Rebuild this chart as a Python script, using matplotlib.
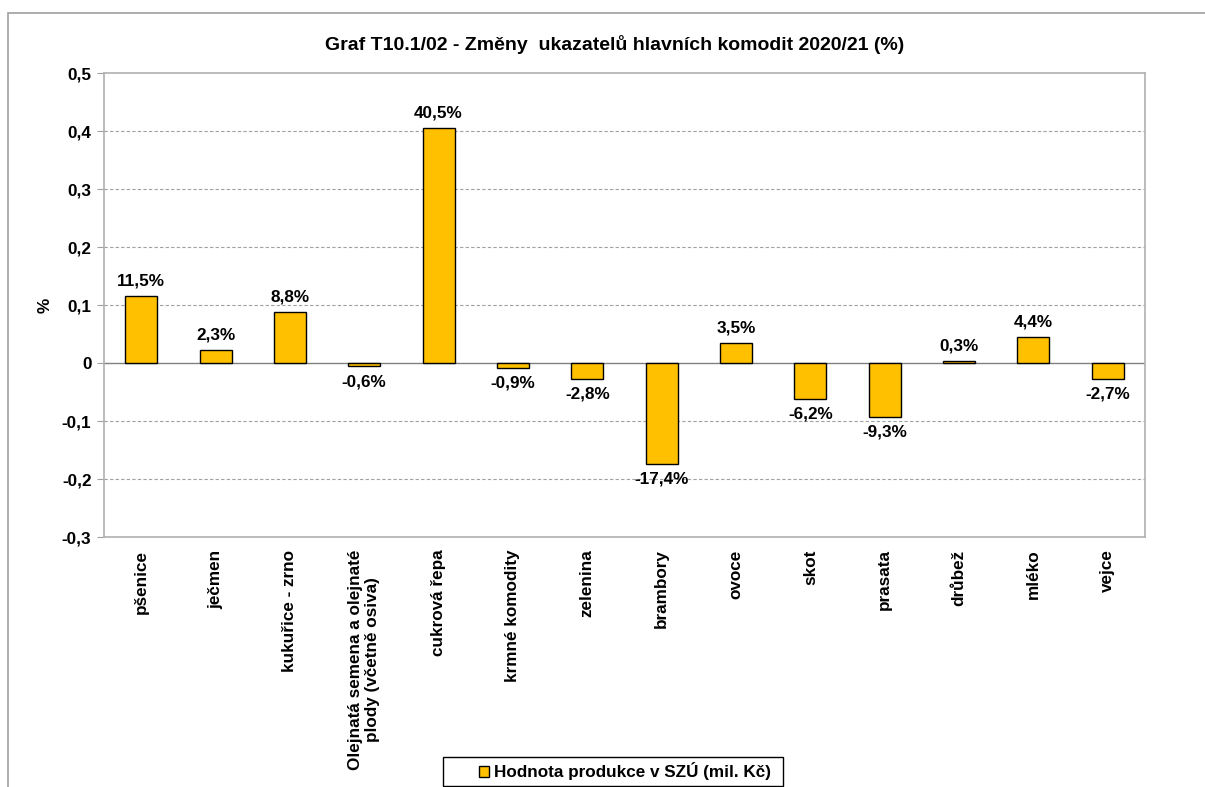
import numpy as np
import matplotlib.pyplot as plt
from matplotlib.patches import Rectangle

plt.rcParams['font.family'] = ['Liberation Sans', 'DejaVu Sans']
plt.rcParams['font.weight'] = 'bold'

categories = ['pšenice', 'ječmen', 'kukuřice - zrno',
              'Olejnatá semena a olejnaté\nplody (včetně osiva)', 'cukrová řepa',
              'krmné komodity', 'zelenina', 'brambory', 'ovoce', 'skot', 'prasata',
              'drůbež', 'mléko', 'vejce']
values = [0.115, 0.023, 0.088, -0.006, 0.405, -0.009, -0.028, -0.174, 0.035,
          -0.062, -0.093, 0.003, 0.044, -0.027]
yticks = [-0.3, -0.2, -0.1, 0, 0.1, 0.2, 0.3, 0.4, 0.5]

FS = 12.3
W, H = 1205, 787
fig = plt.figure(figsize=(W / 100, H / 100), dpi=100)
ax = fig.add_axes([104 / W, 1 - 537 / H, (1145 - 104) / W, (537 - 73) / H])

# outer chart frame (cut off at right / bottom like the source)
fig.add_artist(Rectangle((8 / W, -0.1), 1.2, 1 - 13 / H + 0.1, transform=fig.transFigure,
                         fill=False, edgecolor='#a0a0a0', linewidth=1.2))

x = np.arange(len(categories))
bars = ax.bar(x, values, width=0.43, color='#FFC000', edgecolor='black', linewidth=1,
              label='Hodnota produkce v SZÚ (mil. Kč)', zorder=3)

for xi, v in zip(x, values):
    txt = f'{v * 100:.1f}%'.replace('.', ',')
    if v >= 0:
        ax.text(xi, v + 0.013, txt, ha='center', va='bottom', fontsize=FS, fontweight='bold')
    else:
        ax.text(xi, v - 0.013, txt, ha='center', va='top', fontsize=FS, fontweight='bold')

ax.set_xlim(-0.5, len(categories) - 0.5)
ax.set_ylim(-0.3, 0.5)
ax.set_yticks(yticks)
ax.set_yticklabels([('%g' % t).replace('.', ',') for t in yticks], fontsize=FS, fontweight='bold')
ax.set_xticks(x)
ax.set_xticklabels(categories, rotation=90, fontsize=FS, fontweight='bold', va='top', ha='center',
                   multialignment='center')
ax.tick_params(axis='x', length=0, pad=9)
ax.tick_params(axis='y', length=5, color='#a0a0a0', pad=4)

for t in yticks:
    if t not in (0, -0.3, 0.5):
        ax.axhline(t, color='#a0a0a0', linestyle=(0, (3, 2)), linewidth=0.8, zorder=1)
ax.axhline(0, color='#808080', linewidth=1, zorder=2)

for s in ax.spines.values():
    s.set_color('#b0b0b0')
    s.set_linewidth(1.2)

ax.set_ylabel('%', fontsize=FS, fontweight='bold', labelpad=7)

fig.text(0.5 + 12 / W, 1 - 44 / H, 'Graf T10.1/02 - Změny  ukazatelů hlavních komodit 2020/21 (%)',
         ha='center', va='center', fontsize=14, fontweight='bold')

# legend box drawn separately so it can be wider than its content
fig.add_artist(Rectangle((443 / W, 1 - 786 / H), (783 - 443) / W, 29 / H,
                         transform=fig.transFigure, fill=False, edgecolor='black', linewidth=1))
leg = fig.legend(handles=[bars], loc='center', bbox_to_anchor=(625 / W, 1 - 771.5 / H),
                 fontsize=FS, frameon=False,
                 handlelength=0.6, handleheight=0.6, handletextpad=0.3, borderpad=0,
                 borderaxespad=0)
for t in leg.get_texts():
    t.set_fontweight('bold')

fig.savefig('out.png', dpi=100)
